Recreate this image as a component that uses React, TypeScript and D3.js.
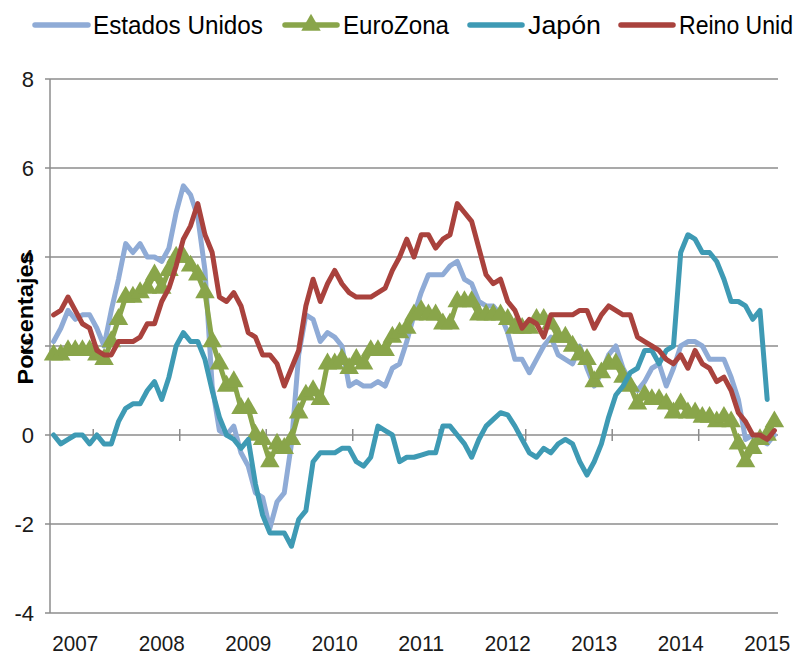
import React, { useEffect, useRef } from 'react';
import * as d3 from 'd3';

// monthly data, Jan 2007 - May 2015 (Japan ends Apr 2015)
const years = ['2007', '2008', '2009', '2010', '2011', '2012', '2013', '2014', '2015'];
const yTicks = [-4, -2, 0, 2, 4, 6, 8];

const usa = [
  2.1, 2.4, 2.8, 2.6, 2.7, 2.7, 2.4, 2.0, 2.8, 3.5, 4.3, 4.1,
  4.3, 4.0, 4.0, 3.9, 4.2, 5.0, 5.6, 5.4, 4.9, 3.7, 1.1, 0.1,
  0.0, 0.2, -0.4, -0.7, -1.3, -1.4, -2.1, -1.5, -1.3, -0.2, 1.8, 2.7,
  2.6, 2.1, 2.3, 2.2, 2.0, 1.1, 1.2, 1.1, 1.1, 1.2, 1.1, 1.5,
  1.6, 2.1, 2.7, 3.2, 3.6, 3.6, 3.6, 3.8, 3.9, 3.5, 3.4, 3.0,
  2.9, 2.9, 2.7, 2.3, 1.7, 1.7, 1.4, 1.7, 2.0, 2.2, 1.8, 1.7,
  1.6, 2.0, 1.5, 1.1, 1.4, 1.8, 2.0, 1.5, 1.2, 1.0, 1.2, 1.5,
  1.6, 1.1, 1.5, 2.0, 2.1, 2.1, 2.0, 1.7, 1.7, 1.7, 1.3, 0.8,
  -0.1, 0.0, -0.1, -0.2, 0.0,
];

const euro = [
  1.8, 1.8, 1.9, 1.9, 1.9, 1.9, 1.8, 1.7, 2.1, 2.6, 3.1, 3.1,
  3.2, 3.3, 3.6, 3.3, 3.7, 4.0, 4.0, 3.8, 3.6, 3.2, 2.1, 1.6,
  1.1, 1.2, 0.6, 0.6, 0.0, -0.1, -0.6, -0.2, -0.3, -0.1, 0.5, 0.9,
  1.0, 0.8, 1.6, 1.6, 1.7, 1.5, 1.7, 1.6, 1.9, 1.9, 1.9, 2.2,
  2.3, 2.4, 2.7, 2.8, 2.7, 2.7, 2.5, 2.5, 3.0, 3.0, 3.0, 2.7,
  2.7, 2.7, 2.7, 2.6, 2.4, 2.4, 2.4, 2.6, 2.6, 2.5, 2.2, 2.2,
  2.0, 1.8, 1.7, 1.2, 1.4, 1.6, 1.6, 1.3, 1.1, 0.7, 0.9, 0.8,
  0.8, 0.7, 0.5, 0.7, 0.5, 0.5, 0.4, 0.4, 0.3, 0.4, 0.3, -0.2,
  -0.6, -0.3, -0.1, 0.0, 0.3,
];

const japan = [
  0.0, -0.2, -0.1, 0.0, 0.0, -0.2, 0.0, -0.2, -0.2, 0.3, 0.6, 0.7,
  0.7, 1.0, 1.2, 0.8, 1.3, 2.0, 2.3, 2.1, 2.1, 1.7, 1.0, 0.4,
  0.0, -0.1, -0.3, -0.1, -1.1, -1.8, -2.2, -2.2, -2.2, -2.5, -1.9, -1.7,
  -0.6, -0.4, -0.4, -0.4, -0.3, -0.3, -0.6, -0.7, -0.5, 0.2, 0.1, 0.0,
  -0.6, -0.5, -0.5, -0.45, -0.4, -0.4, 0.2, 0.2, 0.0, -0.2, -0.5, -0.1,
  0.2, 0.35, 0.5, 0.45, 0.2, -0.1, -0.4, -0.5, -0.3, -0.4, -0.2, -0.1,
  -0.2, -0.6, -0.9, -0.6, -0.2, 0.4, 0.9, 1.1, 1.4, 1.5, 1.9, 1.9,
  1.6, 1.9, 2.0, 4.1, 4.5, 4.4, 4.1, 4.1, 3.9, 3.5, 3.0, 3.0,
  2.9, 2.6, 2.8, 0.8,
];

const uk = [
  2.7, 2.8, 3.1, 2.8, 2.5, 2.4, 1.9, 1.8, 1.8, 2.1, 2.1, 2.1,
  2.2, 2.5, 2.5, 3.0, 3.3, 3.8, 4.4, 4.7, 5.2, 4.5, 4.1, 3.1,
  3.0, 3.2, 2.9, 2.3, 2.2, 1.8, 1.8, 1.6, 1.1, 1.5, 1.9, 2.9,
  3.5, 3.0, 3.4, 3.7, 3.4, 3.2, 3.1, 3.1, 3.1, 3.2, 3.3, 3.7,
  4.0, 4.4, 4.0, 4.5, 4.5, 4.2, 4.4, 4.5, 5.2, 5.0, 4.8, 4.2,
  3.6, 3.4, 3.5, 3.0, 2.8, 2.4, 2.6, 2.5, 2.2, 2.7, 2.7, 2.7,
  2.7, 2.8, 2.8, 2.4, 2.7, 2.9, 2.8, 2.7, 2.7, 2.2, 2.1, 2.0,
  1.9, 1.7, 1.6, 1.8, 1.5, 1.9, 1.6, 1.5, 1.2, 1.3, 1.0, 0.5,
  0.3, 0.0, 0.0, -0.1, 0.1,
];

// the last legend entry is cut at the right edge in the original
const seriesNames = ['Estados Unidos', 'EuroZona', 'Japón', 'Reino Unid'];
const seriesColors = ['#8FABD6', '#89A54A', '#3E9AB4', '#A9423D'];

const font = '"Liberation Sans", Arial, sans-serif';

const App = () => {
  const svgRef = useRef<SVGSVGElement | null>(null);

  useEffect(() => {
    document.body.style.margin = '0';
    const svg = d3.select(svgRef.current);
    svg.selectAll('*').remove();

    const n = usa.length;
    const x = d3.scaleLinear().domain([-0.5, n - 0.5]).range([50, 778]);
    const y = d3.scaleLinear().domain([-4, 8]).range([613, 79]);

    // grid
    svg.append('g')
      .selectAll('line')
      .data(yTicks)
      .enter()
      .append('line')
      .attr('x1', 45)
      .attr('x2', 778)
      .attr('y1', (d) => y(d))
      .attr('y2', (d) => y(d))
      .attr('stroke', '#8c8c8c')
      .attr('stroke-width', 1.5);

    svg.append('line')
      .attr('x1', 50).attr('x2', 50)
      .attr('y1', y(8)).attr('y2', y(-4))
      .attr('stroke', '#8c8c8c')
      .attr('stroke-width', 1.5);

    // year ticks on the zero line
    const tickIdx = d3.range(6, n, 12);
    svg.append('g')
      .selectAll('line')
      .data(tickIdx)
      .enter()
      .append('line')
      .attr('x1', (d) => x(d - 0.5))
      .attr('x2', (d) => x(d - 0.5))
      .attr('y1', y(0) - 6)
      .attr('y2', y(0) + 6)
      .attr('stroke', '#8c8c8c')
      .attr('stroke-width', 1.5);

    svg.append('g')
      .selectAll('text')
      .data(years)
      .enter()
      .append('text')
      .attr('x', (d, i) => x(3 + i * 12))
      .attr('y', 651)
      .attr('text-anchor', 'middle')
      .attr('font-family', font)
      .attr('font-size', 22)
      .attr('fill', '#1a1a1a')
      .attr('textLength', 46)
      .attr('lengthAdjust', 'spacingAndGlyphs')
      .text((d) => d);

    svg.append('g')
      .selectAll('text')
      .data(yTicks)
      .enter()
      .append('text')
      .attr('x', 34)
      .attr('y', (d) => y(d))
      .attr('dy', '0.36em')
      .attr('text-anchor', 'end')
      .attr('font-family', font)
      .attr('font-size', 22)
      .attr('fill', '#1a1a1a')
      .text((d) => d);

    svg.append('text')
      .attr('transform', 'translate(33, 318) rotate(-90)')
      .attr('text-anchor', 'middle')
      .attr('font-family', font)
      .attr('font-weight', 'bold')
      .attr('font-size', 22)
      .attr('textLength', 133)
      .attr('lengthAdjust', 'spacingAndGlyphs')
      .attr('fill', '#000')
      .text('Porcentajes');

    // series
    const line = d3.line<number>()
      .x((d, i) => x(i))
      .y((d) => y(d));

    const all = [usa, euro, japan, uk];
    all.forEach((vals, k) => {
      svg.append('path')
        .datum(vals)
        .attr('d', line)
        .attr('fill', 'none')
        .attr('stroke', seriesColors[k])
        .attr('stroke-width', 5)
        .attr('stroke-linejoin', 'round')
        .attr('stroke-linecap', 'round');

      if (k === 1) {
        svg.append('g')
          .selectAll('path')
          .data(vals)
          .enter()
          .append('path')
          .attr('transform', (d, i) => `translate(${x(i)},${y(d)})`)
          .attr('d', d3.symbol().type(d3.symbolTriangle).size(165)())
          .attr('fill', seriesColors[1]);
      }
    });

    // legend
    const legendItems = [
      { x1: 35, x2: 88, tx: 93, len: 170, fs: 26 },
      { x1: 285, x2: 337, tx: 343, len: 106, fs: 26 },
      { x1: 470, x2: 522, tx: 528, len: 73, fs: 26 },
      { x1: 621, x2: 673, tx: 679, len: 114, fs: 24 },
    ];
    const legend = svg.append('g');
    legendItems.forEach((it, k) => {
      legend.append('line')
        .attr('x1', it.x1).attr('x2', it.x2)
        .attr('y1', 25).attr('y2', 25)
        .attr('stroke', seriesColors[k])
        .attr('stroke-width', 5.5)
        .attr('stroke-linecap', 'round');
      if (k === 1) {
        legend.append('path')
          .attr('transform', `translate(${(it.x1 + it.x2) / 2},25)`)
          .attr('d', d3.symbol().type(d3.symbolTriangle).size(165)())
          .attr('fill', seriesColors[1]);
      }
      legend.append('text')
        .attr('transform', `translate(${it.tx},34) scale(1,${26 / it.fs})`)
        .attr('font-family', font)
        .attr('font-size', it.fs)
        .attr('fill', '#000')
        .attr('textLength', it.len)
        .attr('lengthAdjust', 'spacingAndGlyphs')
        .text(seriesNames[k]);
    });
  }, []);

  return (
    <div style={{ position: 'absolute', left: 0, top: 0 }}>
      <svg ref={svgRef} width={800} height={656} style={{ display: 'block', background: '#fff' }} />
    </div>
  );
};

export default App;
